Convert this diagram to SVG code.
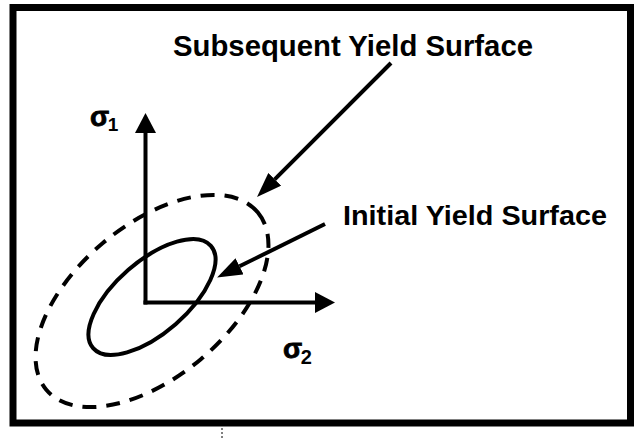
<svg xmlns="http://www.w3.org/2000/svg" width="642" height="439" viewBox="0 0 642 439">
  <style>
    .lbl { font-family: "Liberation Sans", Arial, sans-serif; font-weight: bold; fill: #000; }
    .sig { stroke: #000; stroke-width: 0.8; }
    .ln { stroke: #000; stroke-width: 4; fill: none; }
  </style>
  <defs>
    <marker id="axhead" viewBox="0 0 20 21" refX="0" refY="10.5" markerWidth="20" markerHeight="21" markerUnits="userSpaceOnUse" orient="auto">
      <path d="M0,0 L20,10.5 L0,21 z" fill="#000"/>
    </marker>
    <marker id="ptrhead" viewBox="0 0 25 18" refX="0" refY="9" markerWidth="25" markerHeight="18" markerUnits="userSpaceOnUse" orient="auto">
      <path d="M0,0 L25,9 L0,18 z" fill="#000"/>
    </marker>
  </defs>
  <rect x="0" y="0" width="642" height="439" fill="#fff"/>
  <rect id="frame" x="13" y="7.5" width="617.5" height="415.5" fill="none" stroke="#000" stroke-width="7"/>
  <line x1="222" y1="428" x2="222" y2="439" stroke="#000" stroke-width="1" stroke-dasharray="2 2"/>

  <g id="subsequent-yield-surface">
    <ellipse cx="152" cy="301" rx="138" ry="76" transform="rotate(-40 152 301)" class="ln" stroke-dasharray="14 10"/>
  </g>
  <g id="initial-yield-surface">
    <ellipse cx="152" cy="297" rx="78" ry="36" transform="rotate(-41 152 297)" class="ln"/>
  </g>

  <g id="connectors">
    <line x1="145.5" y1="304.5" x2="145.5" y2="133" class="ln" marker-end="url(#axhead)"/>
    <line x1="143.5" y1="302.5" x2="315" y2="302.5" class="ln" marker-end="url(#axhead)"/>
    <line x1="391" y1="63" x2="274.7" y2="179.3" class="ln" marker-end="url(#ptrhead)"/>
    <line x1="325" y1="224" x2="239.5" y2="266.3" class="ln" marker-end="url(#ptrhead)"/>
  </g>

  <g id="label-subsequent">
    <text class="lbl" x="173" y="56" font-size="29" textLength="360" lengthAdjust="spacingAndGlyphs">Subsequent Yield Surface</text>
  </g>
  <g id="label-initial">
    <text class="lbl" x="343" y="225" font-size="28" textLength="264" lengthAdjust="spacingAndGlyphs">Initial Yield Surface</text>
  </g>
  <g id="label-sigma1">
    <text class="lbl" x="90" y="125.5" font-size="28"><tspan class="sig">σ</tspan><tspan dx="-1.5" dy="5.5" font-size="19">1</tspan></text>
  </g>
  <g id="label-sigma2">
    <text class="lbl" x="283" y="357.5" font-size="28"><tspan class="sig">σ</tspan><tspan dx="-1.5" dy="6.5" font-size="20">2</tspan></text>
  </g>
</svg>
